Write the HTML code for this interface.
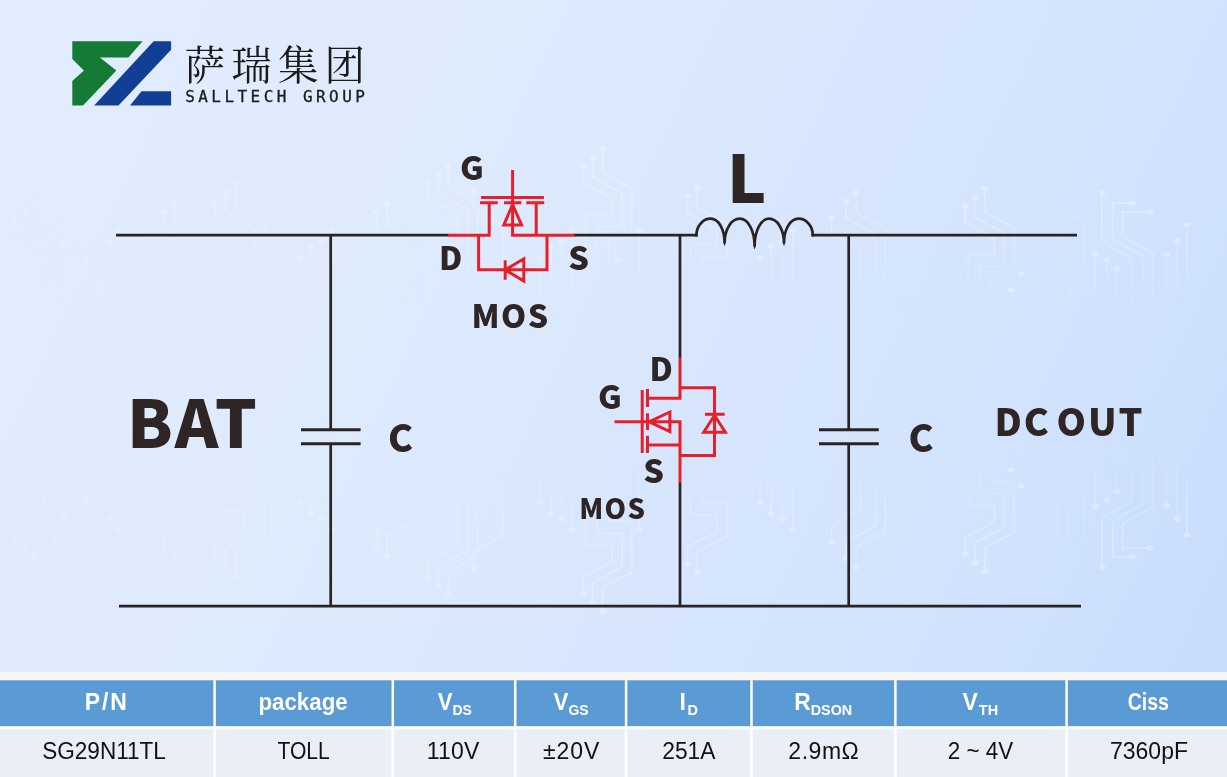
<!DOCTYPE html>
<html lang="zh">
<head>
<meta charset="utf-8">
<title>SALLTECH GROUP - SG29N11TL</title>
<style>
html,body{margin:0;padding:0;}
body{width:1227px;height:777px;overflow:hidden;position:relative;background:#f6f6f6;font-family:"Liberation Sans","Noto Sans CJK SC",sans-serif;}
#bg{position:absolute;left:0;top:0;width:1227px;height:672px;background:linear-gradient(115deg,#e1ecfd 0%,#e0ecfd 20%,#ddeafd 40%,#d7e6fd 58%,#d2e3fd 78%,#cde0fd 88%,#c7dbfd 100%);}
#art{position:absolute;left:0;top:0;width:1227px;height:672px;}
.lbl{font-family:"Noto Sans CJK SC","Liberation Sans",sans-serif;font-weight:900;fill:#2e2524;}
.wire{fill:none;stroke:#2a2322;stroke-width:2.7;}
.plate{fill:none;stroke:#2a2322;stroke-width:3;}
.red{fill:none;stroke:#e71f2b;stroke-width:3;}
#tbl{position:absolute;left:0;top:680px;width:1227px;height:97px;}
#tbl .hd{position:absolute;top:0;height:46px;color:#fff;font-weight:700;font-size:23px;line-height:45px;text-align:center;white-space:nowrap;}
#tbl .rw{position:absolute;top:49px;height:48px;color:#111;font-size:23px;line-height:45px;text-align:center;white-space:nowrap;}
#tbl span{position:relative;}
#tbl sub{font-size:14.5px;vertical-align:baseline;position:relative;top:4.5px;letter-spacing:0;}
</style>
</head>
<body>
<div id="bg"></div>
<svg id="art" width="1227" height="672" viewBox="0 0 1227 672">
  <!-- faint pcb trace decoration -->
  <defs>
    <linearGradient id="fd" gradientUnits="userSpaceOnUse" x1="0" y1="150" x2="0" y2="330">
      <stop offset="0" stop-color="#fff" stop-opacity="1"/><stop offset="0.4" stop-color="#fff" stop-opacity="0.8"/><stop offset="1" stop-color="#fff" stop-opacity="0"/>
    </linearGradient>
    <linearGradient id="lr" gradientUnits="userSpaceOnUse" x1="0" y1="0" x2="1227" y2="0">
      <stop offset="0" stop-color="#fff" stop-opacity="0.35"/><stop offset="0.5" stop-color="#fff" stop-opacity="0.8"/><stop offset="1" stop-color="#fff" stop-opacity="1"/>
    </linearGradient>
    <mask id="mlr" maskUnits="userSpaceOnUse" x="0" y="0" width="1227" height="672"><rect width="1227" height="672" fill="url(#lr)"/></mask>
  </defs>
  <g mask="url(#mlr)" opacity="0.4">
    <g>
      <path fill="none" stroke="#fff" stroke-opacity="0.3" stroke-width="1.5" d="M1059.4,220.8h9.8v37.8h-9.8z M1057.2,217.3h26.7v53.3h-26.7z"/>
      <path fill="none" stroke="url(#fd)" stroke-width="1.5" d="M965.3,205.8v16.8l29.3,16v16.0h-26.6v44.0 M975.1,197.2v20.0l29.3,16v33.6h-25.1v34.0 M984.9,188.6v23.2l29.3,16v51.2h-23.6v24.0 M846.2,201.2v16.8l29.3,16v60.0 M856.0,192.6v20.0l29.3,16v67.6 M831.6,217.3v16.8l29.3,16v60.0 M583.0,165.8v16.8l29.3,16v16.0h-26.6v44.0 M592.8,157.2v20.0l29.3,16v33.6h-25.1v34.0 M602.6,148.6v23.2l29.3,16v51.2h-23.6v24.0 M428.5,182.1v16.8l29.3,16v60.0 M438.3,173.5v20.0l29.3,16v67.6 M448.1,164.9v23.2l29.3,16v75.2 M376.9,212.3v16.8l29.3,16v60.0 M386.7,203.7v20.0l29.3,16v67.6 M163.9,212.3v16.8l29.3,16v60.0 M173.7,203.7v20.0l29.3,16v67.6 M215.4,200.5v16.8l29.3,16v16.0h-26.6v44.0 M225.2,191.9v20.0l29.3,16v33.6h-25.1v34.0 M235.0,183.3v23.2l29.3,16v51.2h-23.6v24.0 M14.6,218.6v16.8l29.3,16v60.0 M24.4,210.0v20.0l29.3,16v67.6 M34.2,201.4v23.2l29.3,16v75.2 M687.6,196.0v16.8l29.3,16v16.0h-26.6v44.0 M697.4,187.4v20.0l29.3,16v33.6h-25.1v34.0 M473.6,191.8v16.8l29.3,16v60.0 M53.8,220.3v16.8l29.3,16v60.0 M63.6,242.9v60 M86.8,258.5v45 M97.3,246.4v60 M109.4,241.8v60 M119.1,230.0v60 M299.4,258.5v45 M310.2,246.4v60 M321.3,241.8v60 M331.7,230.0v60 M639.0,230.7v60 M618.1,260.3v45 M1021.3,273.8v45 M1011.4,289.8v45 M1106.6,260.0v45 M1116.4,268.5v45 M1166.5,254.6v45 M1177.2,240.8v60 M1187.0,224.8v60 M540.0,258.0v45 M551.0,246.0v60 M562.0,241.0v60 M572.0,230.0v60 M760.0,258.0v45 M771.0,246.0v60 M782.0,241.0v60 M793.0,230.0v60 M1102,192.8v48.5l29.3,17.3v54 M1132.4,203.2h-19.7v35.4l29.8,17.4v56 M1150,212h-27.5v24l30.2,17.3v59 M1095.4,253.3v36.5h-25.4v25 M900,300h58v16 M900,308h47v14"/>
      <g fill="#fff" opacity="0.8"><ellipse cx="965.3" cy="205.8" rx="3.6" ry="2.6"/><ellipse cx="975.1" cy="197.2" rx="3.6" ry="2.6"/><ellipse cx="984.9" cy="188.6" rx="3.6" ry="2.6"/><ellipse cx="846.2" cy="201.2" rx="3.6" ry="2.6"/><ellipse cx="856.0" cy="192.6" rx="3.6" ry="2.6"/><ellipse cx="831.6" cy="217.3" rx="3.6" ry="2.6"/><ellipse cx="583.0" cy="165.8" rx="3.6" ry="2.6"/><ellipse cx="592.8" cy="157.2" rx="3.6" ry="2.6"/><ellipse cx="602.6" cy="148.6" rx="3.6" ry="2.6"/><ellipse cx="428.5" cy="182.1" rx="3.6" ry="2.6"/><ellipse cx="438.3" cy="173.5" rx="3.6" ry="2.6"/><ellipse cx="448.1" cy="164.9" rx="3.6" ry="2.6"/><ellipse cx="376.9" cy="212.3" rx="3.6" ry="2.6"/><ellipse cx="386.7" cy="203.7" rx="3.6" ry="2.6"/><ellipse cx="163.9" cy="212.3" rx="3.6" ry="2.6"/><ellipse cx="173.7" cy="203.7" rx="3.6" ry="2.6"/><ellipse cx="215.4" cy="200.5" rx="3.6" ry="2.6"/><ellipse cx="225.2" cy="191.9" rx="3.6" ry="2.6"/><ellipse cx="235.0" cy="183.3" rx="3.6" ry="2.6"/><ellipse cx="14.6" cy="218.6" rx="3.6" ry="2.6"/><ellipse cx="24.4" cy="210.0" rx="3.6" ry="2.6"/><ellipse cx="34.2" cy="201.4" rx="3.6" ry="2.6"/><ellipse cx="687.6" cy="196.0" rx="3.6" ry="2.6"/><ellipse cx="697.4" cy="187.4" rx="3.6" ry="2.6"/><ellipse cx="473.6" cy="191.8" rx="3.6" ry="2.6"/><ellipse cx="53.8" cy="220.3" rx="3.6" ry="2.6"/><ellipse cx="63.6" cy="242.9" rx="3.6" ry="2.6"/><ellipse cx="86.8" cy="258.5" rx="3.6" ry="2.6"/><ellipse cx="97.3" cy="246.4" rx="3.6" ry="2.6"/><ellipse cx="109.4" cy="241.8" rx="3.6" ry="2.6"/><ellipse cx="119.1" cy="230.0" rx="3.6" ry="2.6"/><ellipse cx="299.4" cy="258.5" rx="3.6" ry="2.6"/><ellipse cx="310.2" cy="246.4" rx="3.6" ry="2.6"/><ellipse cx="321.3" cy="241.8" rx="3.6" ry="2.6"/><ellipse cx="331.7" cy="230.0" rx="3.6" ry="2.6"/><ellipse cx="639.0" cy="230.7" rx="3.6" ry="2.6"/><ellipse cx="618.1" cy="260.3" rx="3.6" ry="2.6"/><ellipse cx="1021.3" cy="273.8" rx="3.6" ry="2.6"/><ellipse cx="1011.4" cy="289.8" rx="3.6" ry="2.6"/><ellipse cx="1106.6" cy="260.0" rx="3.6" ry="2.6"/><ellipse cx="1116.4" cy="268.5" rx="3.6" ry="2.6"/><ellipse cx="1166.5" cy="254.6" rx="3.6" ry="2.6"/><ellipse cx="1177.2" cy="240.8" rx="3.6" ry="2.6"/><ellipse cx="1187.0" cy="224.8" rx="3.6" ry="2.6"/><ellipse cx="540.0" cy="258.0" rx="3.6" ry="2.6"/><ellipse cx="551.0" cy="246.0" rx="3.6" ry="2.6"/><ellipse cx="562.0" cy="241.0" rx="3.6" ry="2.6"/><ellipse cx="572.0" cy="230.0" rx="3.6" ry="2.6"/><ellipse cx="760.0" cy="258.0" rx="3.6" ry="2.6"/><ellipse cx="771.0" cy="246.0" rx="3.6" ry="2.6"/><ellipse cx="782.0" cy="241.0" rx="3.6" ry="2.6"/><ellipse cx="793.0" cy="230.0" rx="3.6" ry="2.6"/><ellipse cx="1102.0" cy="192.8" rx="3.6" ry="2.6"/><ellipse cx="1132.4" cy="203.2" rx="3.6" ry="2.6"/><ellipse cx="1150.0" cy="212.0" rx="3.6" ry="2.6"/><ellipse cx="1095.4" cy="253.3" rx="3.6" ry="2.6"/></g>
    </g>
    <g transform="matrix(1,0,0,-1,0,760)">
      <path fill="none" stroke="#fff" stroke-opacity="0.3" stroke-width="1.5" d="M1059.4,220.8h9.8v37.8h-9.8z M1057.2,217.3h26.7v53.3h-26.7z"/>
      <path fill="none" stroke="url(#fd)" stroke-width="1.5" d="M965.3,205.8v16.8l29.3,16v16.0h-26.6v44.0 M975.1,197.2v20.0l29.3,16v33.6h-25.1v34.0 M984.9,188.6v23.2l29.3,16v51.2h-23.6v24.0 M846.2,201.2v16.8l29.3,16v60.0 M856.0,192.6v20.0l29.3,16v67.6 M831.6,217.3v16.8l29.3,16v60.0 M583.0,165.8v16.8l29.3,16v16.0h-26.6v44.0 M592.8,157.2v20.0l29.3,16v33.6h-25.1v34.0 M602.6,148.6v23.2l29.3,16v51.2h-23.6v24.0 M428.5,182.1v16.8l29.3,16v60.0 M438.3,173.5v20.0l29.3,16v67.6 M448.1,164.9v23.2l29.3,16v75.2 M376.9,212.3v16.8l29.3,16v60.0 M386.7,203.7v20.0l29.3,16v67.6 M163.9,212.3v16.8l29.3,16v60.0 M173.7,203.7v20.0l29.3,16v67.6 M215.4,200.5v16.8l29.3,16v16.0h-26.6v44.0 M225.2,191.9v20.0l29.3,16v33.6h-25.1v34.0 M235.0,183.3v23.2l29.3,16v51.2h-23.6v24.0 M14.6,218.6v16.8l29.3,16v60.0 M24.4,210.0v20.0l29.3,16v67.6 M34.2,201.4v23.2l29.3,16v75.2 M687.6,196.0v16.8l29.3,16v16.0h-26.6v44.0 M697.4,187.4v20.0l29.3,16v33.6h-25.1v34.0 M473.6,191.8v16.8l29.3,16v60.0 M53.8,220.3v16.8l29.3,16v60.0 M63.6,242.9v60 M86.8,258.5v45 M97.3,246.4v60 M109.4,241.8v60 M119.1,230.0v60 M299.4,258.5v45 M310.2,246.4v60 M321.3,241.8v60 M331.7,230.0v60 M639.0,230.7v60 M618.1,260.3v45 M1021.3,273.8v45 M1011.4,289.8v45 M1106.6,260.0v45 M1116.4,268.5v45 M1166.5,254.6v45 M1177.2,240.8v60 M1187.0,224.8v60 M540.0,258.0v45 M551.0,246.0v60 M562.0,241.0v60 M572.0,230.0v60 M760.0,258.0v45 M771.0,246.0v60 M782.0,241.0v60 M793.0,230.0v60 M1102,192.8v48.5l29.3,17.3v54 M1132.4,203.2h-19.7v35.4l29.8,17.4v56 M1150,212h-27.5v24l30.2,17.3v59 M1095.4,253.3v36.5h-25.4v25 M900,300h58v16 M900,308h47v14"/>
      <g fill="#fff" opacity="0.8"><ellipse cx="965.3" cy="205.8" rx="3.6" ry="2.6"/><ellipse cx="975.1" cy="197.2" rx="3.6" ry="2.6"/><ellipse cx="984.9" cy="188.6" rx="3.6" ry="2.6"/><ellipse cx="846.2" cy="201.2" rx="3.6" ry="2.6"/><ellipse cx="856.0" cy="192.6" rx="3.6" ry="2.6"/><ellipse cx="831.6" cy="217.3" rx="3.6" ry="2.6"/><ellipse cx="583.0" cy="165.8" rx="3.6" ry="2.6"/><ellipse cx="592.8" cy="157.2" rx="3.6" ry="2.6"/><ellipse cx="602.6" cy="148.6" rx="3.6" ry="2.6"/><ellipse cx="428.5" cy="182.1" rx="3.6" ry="2.6"/><ellipse cx="438.3" cy="173.5" rx="3.6" ry="2.6"/><ellipse cx="448.1" cy="164.9" rx="3.6" ry="2.6"/><ellipse cx="376.9" cy="212.3" rx="3.6" ry="2.6"/><ellipse cx="386.7" cy="203.7" rx="3.6" ry="2.6"/><ellipse cx="163.9" cy="212.3" rx="3.6" ry="2.6"/><ellipse cx="173.7" cy="203.7" rx="3.6" ry="2.6"/><ellipse cx="215.4" cy="200.5" rx="3.6" ry="2.6"/><ellipse cx="225.2" cy="191.9" rx="3.6" ry="2.6"/><ellipse cx="235.0" cy="183.3" rx="3.6" ry="2.6"/><ellipse cx="14.6" cy="218.6" rx="3.6" ry="2.6"/><ellipse cx="24.4" cy="210.0" rx="3.6" ry="2.6"/><ellipse cx="34.2" cy="201.4" rx="3.6" ry="2.6"/><ellipse cx="687.6" cy="196.0" rx="3.6" ry="2.6"/><ellipse cx="697.4" cy="187.4" rx="3.6" ry="2.6"/><ellipse cx="473.6" cy="191.8" rx="3.6" ry="2.6"/><ellipse cx="53.8" cy="220.3" rx="3.6" ry="2.6"/><ellipse cx="63.6" cy="242.9" rx="3.6" ry="2.6"/><ellipse cx="86.8" cy="258.5" rx="3.6" ry="2.6"/><ellipse cx="97.3" cy="246.4" rx="3.6" ry="2.6"/><ellipse cx="109.4" cy="241.8" rx="3.6" ry="2.6"/><ellipse cx="119.1" cy="230.0" rx="3.6" ry="2.6"/><ellipse cx="299.4" cy="258.5" rx="3.6" ry="2.6"/><ellipse cx="310.2" cy="246.4" rx="3.6" ry="2.6"/><ellipse cx="321.3" cy="241.8" rx="3.6" ry="2.6"/><ellipse cx="331.7" cy="230.0" rx="3.6" ry="2.6"/><ellipse cx="639.0" cy="230.7" rx="3.6" ry="2.6"/><ellipse cx="618.1" cy="260.3" rx="3.6" ry="2.6"/><ellipse cx="1021.3" cy="273.8" rx="3.6" ry="2.6"/><ellipse cx="1011.4" cy="289.8" rx="3.6" ry="2.6"/><ellipse cx="1106.6" cy="260.0" rx="3.6" ry="2.6"/><ellipse cx="1116.4" cy="268.5" rx="3.6" ry="2.6"/><ellipse cx="1166.5" cy="254.6" rx="3.6" ry="2.6"/><ellipse cx="1177.2" cy="240.8" rx="3.6" ry="2.6"/><ellipse cx="1187.0" cy="224.8" rx="3.6" ry="2.6"/><ellipse cx="540.0" cy="258.0" rx="3.6" ry="2.6"/><ellipse cx="551.0" cy="246.0" rx="3.6" ry="2.6"/><ellipse cx="562.0" cy="241.0" rx="3.6" ry="2.6"/><ellipse cx="572.0" cy="230.0" rx="3.6" ry="2.6"/><ellipse cx="760.0" cy="258.0" rx="3.6" ry="2.6"/><ellipse cx="771.0" cy="246.0" rx="3.6" ry="2.6"/><ellipse cx="782.0" cy="241.0" rx="3.6" ry="2.6"/><ellipse cx="793.0" cy="230.0" rx="3.6" ry="2.6"/><ellipse cx="1102.0" cy="192.8" rx="3.6" ry="2.6"/><ellipse cx="1132.4" cy="203.2" rx="3.6" ry="2.6"/><ellipse cx="1150.0" cy="212.0" rx="3.6" ry="2.6"/><ellipse cx="1095.4" cy="253.3" rx="3.6" ry="2.6"/></g>
    </g>
  </g>

  <!-- logo mark -->
  <polygon fill="#157a36" points="72.3,41.3 142.6,41.3 128.4,57.4 99.9,57.4 116.4,70.5 83,105.5 72.3,105.5 72.3,80.9 83.9,70.5 72.3,59"/>
  <polygon fill="#123f96" points="153.6,41.3 171.1,41.3 171.1,49.7 118.5,105.5 94.1,105.5"/>
  <polygon fill="#123f96" points="141.5,91.3 171.1,91.3 171.1,105.5 130,105.5"/>
  <text x="184.5" y="80.4" style="font-family:'Liberation Serif','Noto Serif CJK SC',serif;font-size:40.5px;fill:#1a1a1a;letter-spacing:6.2px;">萨瑞集团</text>
  <text x="185.2" y="101.8" style="font-family:'DejaVu Sans Mono','Liberation Mono',monospace;font-size:16px;fill:#1a1a1a;stroke:#1a1a1a;stroke-width:0.3px;letter-spacing:3.45px;">SALLTECH GROUP</text>

  <!-- wires -->
  <path class="wire" d="M116,235.2H448.5 M574,235.2H697.7 M811.5,235.2H1077 M119,606.2H1081 M330.7,235.2V429.8 M330.7,443.8V606.2 M848.7,235.2V429.8 M848.7,443.8V606.2 M680,235.2V358 M680,482.5V606.2"/>
  <path class="plate" d="M301,429.8H360.6 M301,443.8H360.6 M819,429.8H878.8 M819,443.8H878.8"/>
  <!-- inductor -->
  <path class="wire" style="stroke-linejoin:bevel" d="M696.4,236.5V235.3C696.4,226.1 702.8,218.7 710.7,218.7C718.4,218.7 724.6,229.2 724.6,243C724.6,229.2 731.4,218.7 739.8,218.7C748,218.7 754.6,230.5 754.6,246.2C754.6,230.5 761,218.7 768.9,218.7C777.2,218.7 784,229.2 784,243C784,229.2 790.5,218.7 798.5,218.7C806.4,218.7 812.8,226.1 812.8,235.3V236.5"/>
  <path fill="#2a2322" d="M723.3,242.5H725.9L724.6,246.3Z M753.3,245.7H755.9L754.6,249.6Z M782.7,242.5H785.3L784,246.3Z"/>

  <!-- top mosfet -->
  <path class="red" d="M448,235.2H489.2V202.8 M512.6,170V235.2H574.5 M536.2,202.8V235.2 M481.1,197.4H543.9 M480,202.8H497.8 M504,202.8H521.4 M526.3,202.8H544.2 M478.6,235.2V269.8H547V235.2 M505.2,260.2V279.8 M505.2,269.8L523.8,258.8V281Z M512.6,204.5L503.8,225.1H521.6Z"/>
  <!-- lower mosfet -->
  <path class="red" d="M680,357.4V398.2H647.5 M614.5,421.8H680V482.9 M647.5,445H680 M642.2,390.1V452.9 M647.5,388.9V406.9 M647.5,413.2V430 M647.5,435.8V452.9 M649,421.8L669.9,412V431.6Z M680,387.7H714.5V455.4H680 M704.9,414.2H724.7 M714.5,415.5L703.7,432.3H725.4Z"/>

  <!-- labels -->
  <text class="lbl" x="460" y="179.8" font-size="32.5">G</text>
  <text class="lbl" x="439" y="270" font-size="32">D</text>
  <text class="lbl" x="568.3" y="270.3" font-size="32.5">S</text>
  <text class="lbl" x="471.5" y="327.5" font-size="32" style="letter-spacing:1.5px">MOS</text>
  <text class="lbl" x="727" y="203" font-size="66">L</text>
  <text class="lbl" x="127" y="448.4" font-size="66" style="letter-spacing:2px">BAT</text>
  <text class="lbl" x="388" y="452" font-size="37.5">C</text>
  <text class="lbl" x="908.5" y="452" font-size="37.5">C</text>
  <text class="lbl" x="994.5" y="436" font-size="37.5" style="letter-spacing:2px">DC</text>
  <text class="lbl" x="1056.5" y="436" font-size="37.5" style="letter-spacing:2px">OUT</text>
  <text class="lbl" x="649.5" y="380.8" font-size="32">D</text>
  <text class="lbl" x="598" y="408.6" font-size="32.5">G</text>
  <text class="lbl" x="643.2" y="483.3" font-size="32.5">S</text>
  <text class="lbl" x="579.3" y="518.6" font-size="27.4" style="letter-spacing:1.3px">MOS</text>
</svg>

<svg id="tblbg" width="1227" height="777" viewBox="0 0 1227 777" style="position:absolute;left:0;top:0;">
  <rect x="0" y="680.3" width="1227" height="46.2" fill="#5b9bd5"/>
  <rect x="0" y="726.3" width="1227" height="3.2" fill="#fdfdfe"/>
  <rect x="0" y="729.4" width="1227" height="47.6" fill="#eaeff7"/>
  <path d="M214.6,680.3V777 M392.8,680.3V777 M515.2,680.3V777 M626.1,680.3V777 M751.5,680.3V777 M895.4,680.3V777 M1066.6,680.3V777" stroke="#fff" stroke-width="2.5" fill="none"/>
</svg>
<div id="tbl">
  <div class="hd" style="left:0.0px;width:213.4px;"><span style="left:0.0px;letter-spacing:1.89px">P/N</span></div>
  <div class="hd" style="left:215.8px;width:175.8px;"><span style="display:inline-block;transform:scaleX(0.970);left:-0.4px;letter-spacing:0.00px">package</span></div>
  <div class="hd" style="left:394.0px;width:120.0px;"><span style="display:inline-block;transform:scaleX(0.963);left:0.4px;letter-spacing:0.00px">V<sub>DS</sub></span></div>
  <div class="hd" style="left:516.4px;width:108.5px;"><span style="display:inline-block;transform:scaleX(0.970);left:0.2px;letter-spacing:0.00px">V<sub>GS</sub></span></div>
  <div class="hd" style="left:627.3px;width:123.0px;"><span style="left:0.0px;letter-spacing:1.54px">I<sub>D</sub></span></div>
  <div class="hd" style="left:752.7px;width:141.5px;"><span style="display:inline-block;transform:scaleX(0.990);left:-0.6px;letter-spacing:0.00px">R<sub>DSON</sub></span></div>
  <div class="hd" style="left:896.6px;width:168.8px;"><span style="left:-0.6px;letter-spacing:0.94px">V<sub>TH</sub></span></div>
  <div class="hd" style="left:1067.8px;width:159.2px;"><span style="display:inline-block;transform:scaleX(0.848);left:1.0px;letter-spacing:0.00px">Ciss</span></div>
  <div class="rw" style="left:0.0px;width:213.4px;"><span style="display:inline-block;transform:scaleX(0.980);left:-3.0px;letter-spacing:0.00px">SG29N11TL</span></div>
  <div class="rw" style="left:215.8px;width:175.8px;"><span style="display:inline-block;transform:scaleX(0.916);left:-0.4px;letter-spacing:0.00px">TOLL</span></div>
  <div class="rw" style="left:394.0px;width:120.0px;"><span style="left:-0.8px;letter-spacing:0.23px">110V</span></div>
  <div class="rw" style="left:516.4px;width:108.5px;"><span style="left:1.0px;letter-spacing:0.89px">±20V</span></div>
  <div class="rw" style="left:627.3px;width:123.0px;"><span style="display:inline-block;transform:scaleX(0.990);left:-0.0px;letter-spacing:0.00px">251A</span></div>
  <div class="rw" style="left:752.7px;width:141.5px;"><span style="left:0.4px;letter-spacing:0.53px">2.9mΩ</span></div>
  <div class="rw" style="left:896.6px;width:168.8px;"><span style="display:inline-block;transform:scaleX(0.976);left:-0.8px;letter-spacing:0.00px">2 ~ 4V</span></div>
  <div class="rw" style="left:1067.8px;width:159.2px;"><span style="left:1.6px;letter-spacing:0.00px">7360pF</span></div>
</div>
</body>
</html>
